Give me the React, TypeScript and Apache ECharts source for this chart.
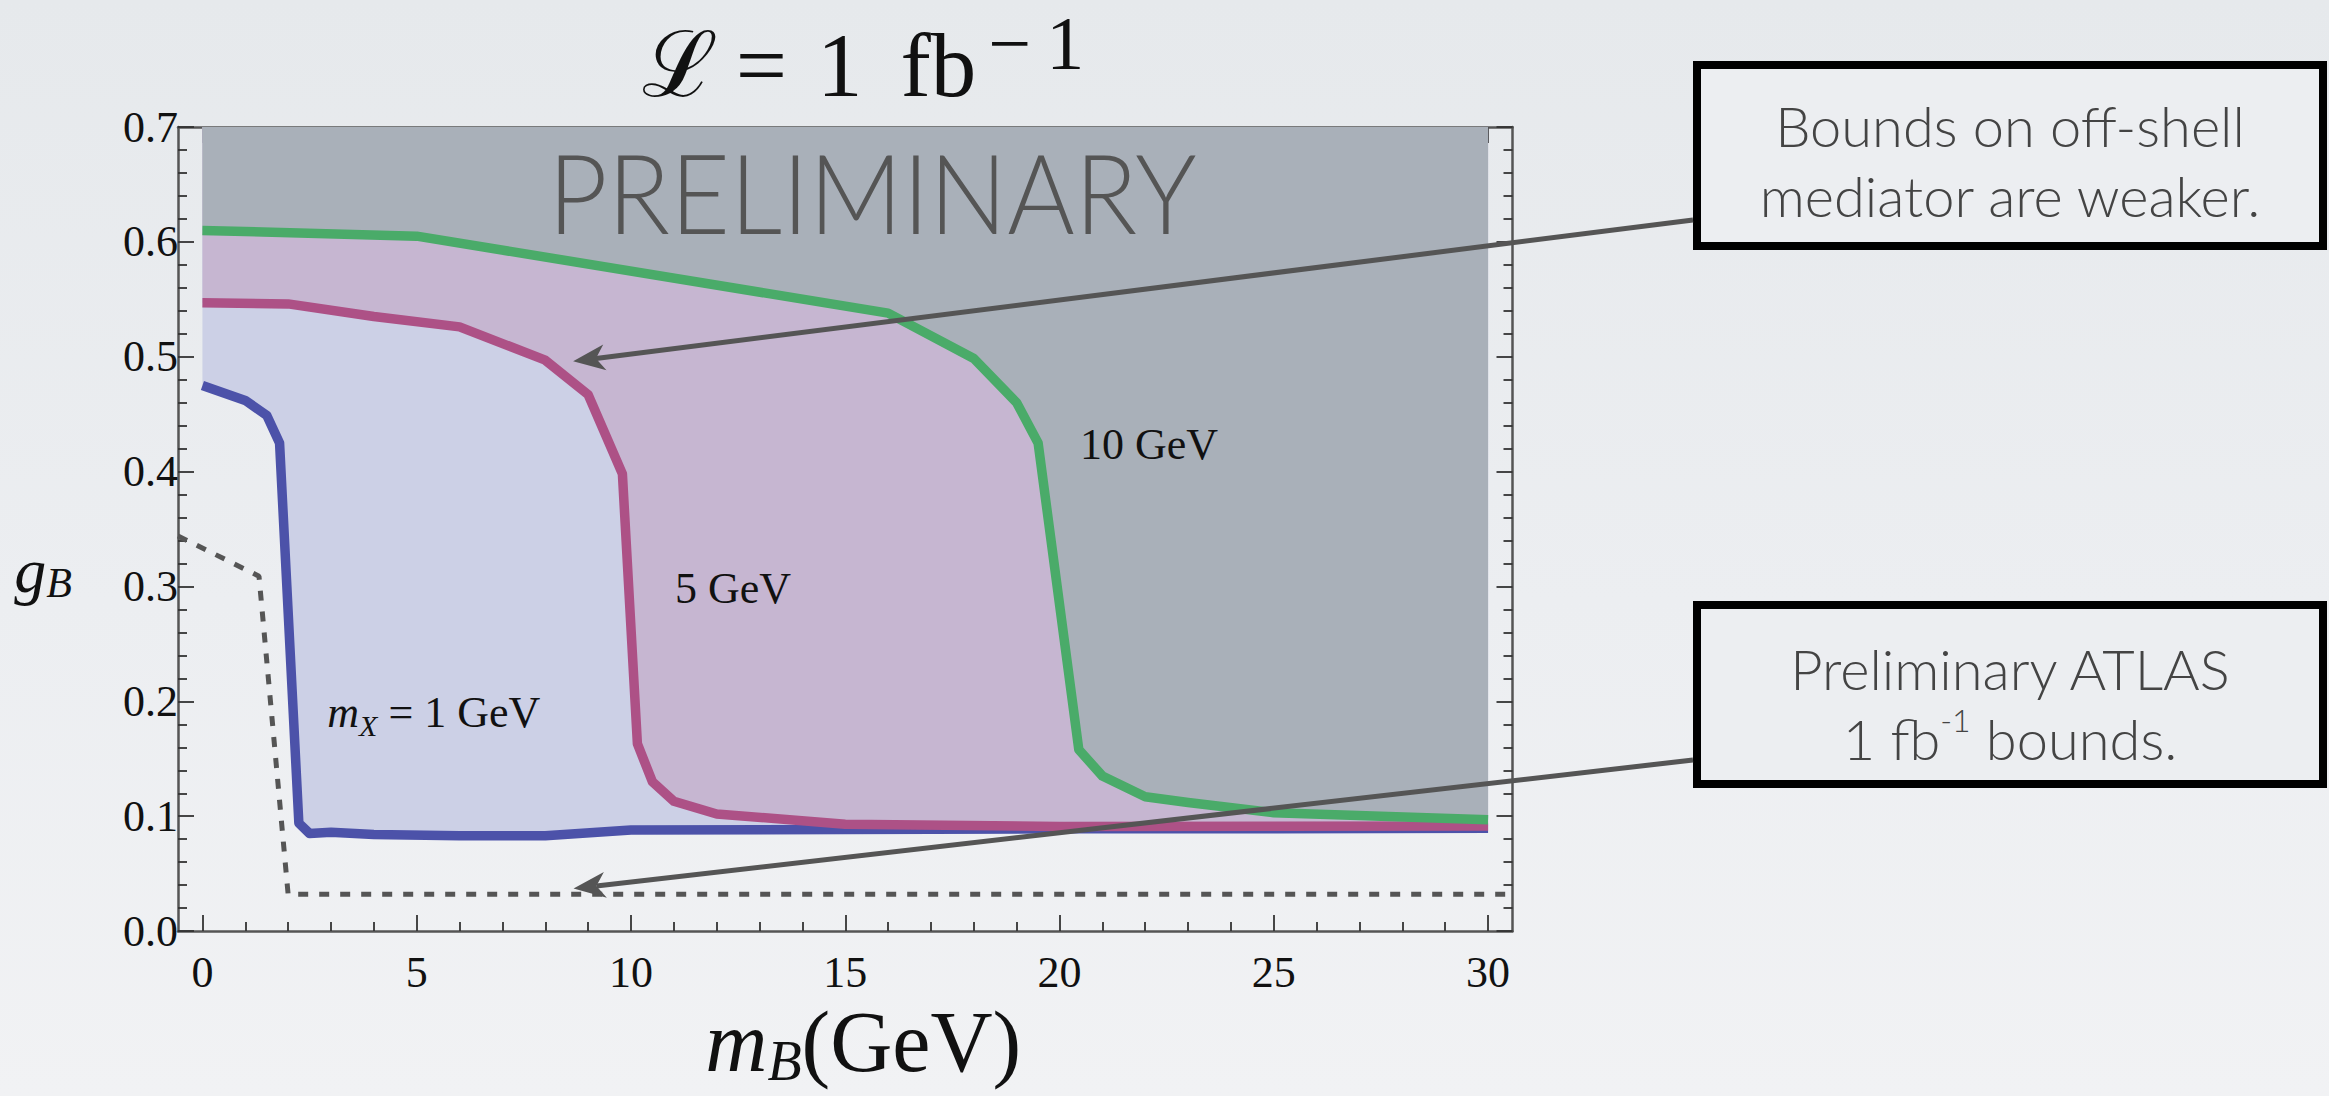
import React, { useEffect, useRef } from "react";
import * as echarts from "echarts";

// ---------- axes ----------
const X_MIN = -0.57;
const X_MAX = 30.57;
const Y_MIN = 0;
const Y_MAX = 0.7;

const xMajorTicks = [0, 5, 10, 15, 20, 25, 30];
const xMinorTicks = [1, 2, 3, 4, 6, 7, 8, 9, 11, 12, 13, 14, 16, 17, 18, 19, 21, 22, 23, 24, 26, 27, 28, 29];
const yMajorTicks = [0, 0.1, 0.2, 0.3, 0.4, 0.5, 0.6, 0.7];
const yMinorTicks = [
  0.02, 0.04, 0.06, 0.08, 0.12, 0.14, 0.16, 0.18, 0.22, 0.24, 0.26, 0.28, 0.32, 0.34,
  0.36, 0.38, 0.42, 0.44, 0.46, 0.48, 0.52, 0.54, 0.56, 0.58, 0.62, 0.64, 0.66, 0.68,
];

// ---------- data: [m_B (GeV), g_B] ----------
const boundMx1 = [
  [0, 0.475], [1, 0.462], [1.5, 0.449], [1.8, 0.425], [2.25, 0.094], [2.5, 0.085],
  [3, 0.086], [4, 0.084], [6, 0.083], [8, 0.083], [10, 0.088], [15, 0.0885],
  [20, 0.089], [25, 0.0892], [30, 0.0895],
];
const boundMx5 = [
  [0, 0.547], [2, 0.546], [4, 0.535], [6, 0.526], [8, 0.497], [9, 0.467], [9.8, 0.398],
  [10.15, 0.163], [10.5, 0.13], [11, 0.113], [12, 0.102], [15, 0.093], [20, 0.091],
  [25, 0.0912], [30, 0.0915],
];
const boundMx10 = [
  [0, 0.61], [5, 0.605], [16, 0.538], [18, 0.4985], [19, 0.46], [19.5, 0.425],
  [20.45, 0.158], [21, 0.135], [22, 0.117], [23, 0.112], [25, 0.103], [30, 0.097],
];
const atlasBound = [
  [-0.57, 0.344], [1.32, 0.309], [2.0, 0.032], [30.57, 0.032],
];

// ---------- annotation texts and their data anchors ----------
const curveLabelTexts = ["{i|m}{s|X}{r| = 1 GeV}", "{r|5 GeV}", "{r|10 GeV}"];
const curveLabelAnchors = [[5.4, 0.188], [12.38, 0.296], [22.09, 0.421]];
const watermarkText = "PRELIMINARY";
const watermarkAnchor = [15.63, 0.644];
const noteTexts = [
  "{n|Bounds on off-shell}\n{n|mediator are weaker.}",
  "{n|Preliminary ATLAS}\n{n|1 fb}{sup|-1}{n| bounds.}",
];
const arrowTips = [[8.65, 0.496], [8.66, 0.037]];

// ---------- layout (pixels) ----------
const W = 2329;
const H = 1096;
const GRID = { left: 178, right: 816.5, top: 127, bottom: 145 };
const NOTE_BOXES = [
  { x: 1697, y: 65, w: 626, h: 181, cy: 160, tail: [1693, 220] },
  { x: 1697, y: 605, w: 626, h: 179, cy: 703, tail: [1693, 760] },
];

const SERIF = "'Liberation Serif', 'Times New Roman', 'DejaVu Serif', serif";
const SANS = "Lato, 'Open Sans', 'Noto Sans', sans-serif";
const FRAME = "#555";
const TICK = "#333";
const NOTE_INK = "#444";

const C_BLUE = "#4c52a9";
const C_MAG = "#ad5186";
const C_GREEN = "#4aab69";
const F_BLUE = "#ccd0e6";
const F_MAG = "#c6b6d1";
const F_GREEN = "#a9b0b9";

function xAxisDef(position: string, ticks: number[], len: number, showLine: boolean, labels: boolean, extra: any = {}) {
  return {
    type: "value",
    position,
    min: X_MIN,
    max: X_MAX,
    splitLine: { show: false },
    axisLine: { show: showLine, onZero: false, lineStyle: { color: FRAME, width: 2.5 } },
    axisTick: { show: true, inside: true, length: len, customValues: ticks, lineStyle: { color: TICK, width: 1.8 } },
    axisLabel: labels
      ? {
          show: true,
          customValues: xMajorTicks,
          formatter: (v: number) => String(v),
          fontFamily: SERIF,
          fontSize: 44,
          color: "#111",
          margin: 19,
        }
      : { show: false },
    ...extra,
  };
}

function yAxisDef(position: string, ticks: number[], len: number, showLine: boolean, labels: boolean, extra: any = {}) {
  return {
    type: "value",
    position,
    min: Y_MIN,
    max: Y_MAX,
    splitLine: { show: false },
    axisLine: { show: showLine, onZero: false, lineStyle: { color: FRAME, width: 2.5 } },
    axisTick: { show: true, inside: true, length: len, customValues: ticks, lineStyle: { color: TICK, width: 1.8 } },
    axisLabel: labels
      ? {
          show: true,
          customValues: yMajorTicks,
          formatter: (v: number) => v.toFixed(1),
          fontFamily: SERIF,
          fontSize: 44,
          color: "#111",
          margin: 0,
        }
      : { show: false },
    ...extra,
  };
}

function arrow(tail: number[], tip: number[]) {
  const dx = tip[0] - tail[0];
  const dy = tip[1] - tail[1];
  const L = Math.sqrt(dx * dx + dy * dy);
  const ux = dx / L;
  const uy = dy / L;
  const nx = -uy;
  const ny = ux;
  const hl = 32;
  const hw = 13;
  const notch = 9;
  const back = [tip[0] - ux * (hl - notch), tip[1] - uy * (hl - notch)];
  return [
    {
      type: "line",
      z: 100,
      shape: { x1: tail[0], y1: tail[1], x2: back[0], y2: back[1] },
      style: { stroke: "#555", lineWidth: 5 },
    },
    {
      type: "polygon",
      z: 100,
      shape: {
        points: [
          [tip[0], tip[1]],
          [tip[0] - ux * hl + nx * hw, tip[1] - uy * hl + ny * hw],
          back,
          [tip[0] - ux * hl - nx * hw, tip[1] - uy * hl - ny * hw],
        ],
      },
      style: { fill: "#555" },
    },
  ];
}

const labelRich = {
  i: { fontFamily: SERIF, fontStyle: "italic", fontSize: 44, lineHeight: 50, verticalAlign: "top", padding: [0, 0, 8, 0], fill: "#111", color: "#111" },
  s: { fontFamily: SERIF, fontStyle: "italic", fontSize: 30, lineHeight: 30, verticalAlign: "bottom", fill: "#111", color: "#111" },
  r: { fontFamily: SERIF, fontSize: 44, lineHeight: 50, verticalAlign: "top", padding: [0, 0, 8, 0], fill: "#111", color: "#111" },
};

export default function App() {
  const ref = useRef<HTMLDivElement>(null);

  useEffect(() => {
    if (!ref.current) return;
    const chart = echarts.init(ref.current, null, { renderer: "svg" });

    const mkArea = (data: number[][], fill: string, z: number) => ({
      type: "line",
      data,
      xAxisIndex: 0,
      yAxisIndex: 0,
      symbol: "none",
      silent: true,
      lineStyle: { width: 0, opacity: 0 },
      areaStyle: { origin: "end", color: fill, opacity: 1 },
      z,
    });
    const mkLine = (name: string, data: number[][], color: string) => ({
      type: "line",
      name,
      data,
      xAxisIndex: 0,
      yAxisIndex: 0,
      symbol: "none",
      lineStyle: { color, width: 9.5, join: "round" },
      z: 10,
    });

    const tRich = (pr: number) => ({
      fontFamily: SERIF,
      fontWeight: "normal",
      fontSize: 91,
      lineHeight: 100,
      padding: [20, pr, 0, 0],
      color: "#111",
    });

    const option: any = {
      animation: false,
      backgroundColor: "transparent",
      title: {
        text: "{L|ℒ}{e|=}{o|1}{f|fb}{b|−\u20091}",
        left: 858,
        top: 0,
        textAlign: "center",
        textStyle: {
          fontFamily: SERIF,
          fontWeight: "normal",
          fontSize: 91,
          color: "#111",
          rich: {
            L: tRich(18),
            e: tRich(30),
            o: tRich(38),
            f: tRich(12),
            b: { fontFamily: SERIF, fontWeight: "normal", fontSize: 76, lineHeight: 60, padding: [0, 0, 0, 0], verticalAlign: "top", color: "#111" },
          },
        },
      },
      grid: { ...GRID, containLabel: false },
      xAxis: [
        xAxisDef("bottom", xMajorTicks, 16, true, true, {
          name: "{i|m}{s|B}{r|(GeV)}",
          nameLocation: "middle",
          nameGap: 55,
          nameTextStyle: {
            padding: [0, 0, 0, 36],
            rich: {
              i: { fontFamily: SERIF, fontStyle: "italic", fontSize: 86, lineHeight: 90, verticalAlign: "top", padding: [0, 0, 6, 0], color: "#111" },
              s: { fontFamily: SERIF, fontStyle: "italic", fontSize: 56, lineHeight: 56, verticalAlign: "bottom", color: "#111" },
              r: { fontFamily: SERIF, fontSize: 86, lineHeight: 90, verticalAlign: "top", padding: [0, 0, 6, 0], color: "#111" },
            },
          },
        }),
        xAxisDef("bottom", xMinorTicks, 9, false, false),
        xAxisDef("top", xMajorTicks, 16, true, false),
        xAxisDef("top", xMinorTicks, 9, false, false),
      ],
      yAxis: [
        yAxisDef("left", yMajorTicks, 16, true, true, {
          name: "{i|g}{s|B}",
          nameLocation: "middle",
          nameRotate: 0,
          nameGap: 106,
          nameTextStyle: {
            padding: [84, 0, 0, 0],
            rich: {
              i: { fontFamily: SERIF, fontStyle: "italic", fontSize: 64, lineHeight: 66, verticalAlign: "top", padding: [0, 0, 9, 0], color: "#111" },
              s: { fontFamily: SERIF, fontStyle: "italic", fontSize: 42, lineHeight: 42, verticalAlign: "bottom", color: "#111" },
            },
          },
        }),
        yAxisDef("left", yMinorTicks, 9, false, false),
        yAxisDef("right", yMajorTicks, 16, true, false),
        yAxisDef("right", yMinorTicks, 9, false, false),
      ],
      series: [
        mkArea(boundMx1, F_BLUE, 1),
        mkArea(boundMx5, F_MAG, 2),
        mkArea(boundMx10, F_GREEN, 3),
        mkLine("m_X = 1 GeV", boundMx1, C_BLUE),
        mkLine("5 GeV", boundMx5, C_MAG),
        mkLine("10 GeV", boundMx10, C_GREEN),
        {
          type: "line",
          name: "ATLAS 1 fb^-1",
          data: atlasBound,
          xAxisIndex: 0,
          yAxisIndex: 0,
          symbol: "none",
          lineStyle: { color: "#555", width: 5, type: [10, 11] },
          z: 11,
        },
      ],
    };
    chart.setOption(option);

    const toPx = (p: number[]) => chart.convertToPixel({ gridIndex: 0 }, p) as number[];

    const graphics: any[] = [];
    curveLabelTexts.forEach((t, k) => {
      const [px, py] = toPx(curveLabelAnchors[k]);
      graphics.push({
        type: "text",
        z: 90,
        x: px,
        y: py,
        style: { text: t, align: "center", verticalAlign: "middle", rich: labelRich },
      });
    });
    const wm = toPx(watermarkAnchor);
    graphics.push({
      type: "text",
      z: 90,
      x: wm[0],
      y: wm[1],
      scaleX: 0.937,
      style: {
        text: watermarkText,
        align: "center",
        verticalAlign: "middle",
        fontFamily: SANS,
        fontWeight: 300,
        fontSize: 110,
        fill: "#555",
      },
    });
    NOTE_BOXES.forEach((b, k) => {
      graphics.push({
        type: "rect",
        z: 95,
        shape: { x: b.x, y: b.y, width: b.w, height: b.h },
        style: { fill: "#eceef1", stroke: "#000", lineWidth: 8 },
      });
      graphics.push({
        type: "text",
        z: 96,
        x: b.x + b.w / 2,
        y: b.cy,
        style: {
          text: noteTexts[k],
          align: "center",
          verticalAlign: "middle",
          fill: NOTE_INK,
          rich: {
            n: { fontFamily: SANS, fontWeight: 300, fontSize: 56, lineHeight: 70, fill: NOTE_INK, color: NOTE_INK },
            sup: { fontFamily: SANS, fontWeight: 300, fontSize: 32, lineHeight: 32, verticalAlign: "top", fill: NOTE_INK, color: NOTE_INK },
          },
        },
      });
      graphics.push(...arrow(b.tail, toPx(arrowTips[k])));
    });
    chart.setOption({ graphic: graphics });

    return () => chart.dispose();
  }, []);

  return (
    <div
      style={{
        position: "fixed",
        left: 0,
        top: 0,
        width: W,
        height: H,
        background: "linear-gradient(180deg, #e6e9ec 0%, #eceef1 55%, #f1f2f4 100%)",
      }}
    >
      <div ref={ref} style={{ width: W, height: H }} />
    </div>
  );
}
